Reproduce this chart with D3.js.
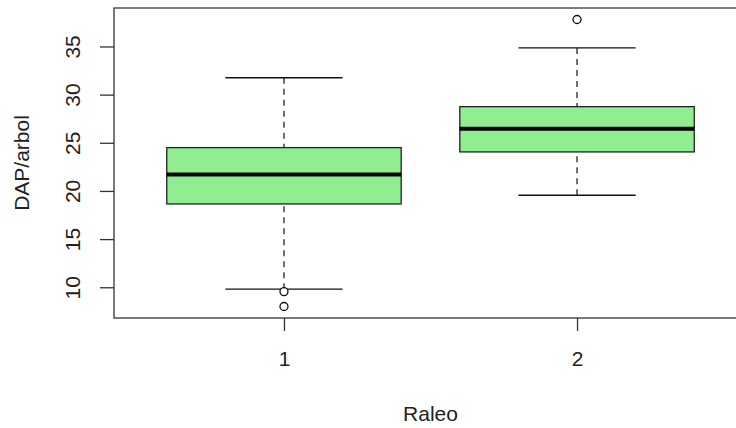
<!DOCTYPE html>
<html>
<head>
<meta charset="utf-8">
<script src="https://cdn.jsdelivr.net/npm/d3@7"></script>
<style>
  body { margin: 0; background: #fff; }
  svg { display: block; font-family: "Liberation Sans", Arial, sans-serif; }
</style>
</head>
<body>
<svg width="736" height="428"></svg>
<script>
// box statistics per Raleo group
let groups = [1, 2];
let lowWhisker = [9.8, 19.55];
let q1 = [18.65, 24.05];
let medians = [21.7, 26.45];
let q3 = [24.5, 28.75];
let highWhisker = [31.75, 34.85];
let outliers = [[9.55, 8.0], [37.8]];
let yTicks = [10, 15, 20, 25, 30, 35];

window.addEventListener('load', e => {
    drawBoxplot();
});

function drawBoxplot() {
    let left = 114, right = 747, top = 8, bottom = 318;
    let svg = d3.select("svg");

    let allVals = lowWhisker.concat(highWhisker, outliers.flat());
    let lo = d3.min(allVals), hi = d3.max(allVals);
    let pad = (hi - lo) * 0.04;

    let xScale = d3.scaleLinear()
                   .domain([0.5 - 0.08, 2.5 + 0.08])
                   .range([left, right]);
    let yScale = d3.scaleLinear()
                   .domain([lo - pad, hi + pad])
                   .range([bottom, top]);

    let boxW = xScale(0.8) - xScale(0);
    let capW = boxW / 2;

    let stats = groups.map((g, i) => ({
        g: g, lw: lowWhisker[i], q1: q1[i], med: medians[i],
        q3: q3[i], hw: highWhisker[i], out: outliers[i]
    }));

    let box = svg.selectAll(".box")
        .data(stats)
        .enter()
        .append("g")
        .attr("class", "box");

    // dashed whiskers
    box.append("line")
        .attr("x1", d => xScale(d.g)).attr("x2", d => xScale(d.g))
        .attr("y1", d => yScale(d.lw)).attr("y2", d => yScale(d.q1))
        .attr("stroke", "#222").attr("stroke-width", 1.3)
        .attr("stroke-dasharray", "6,5");
    box.append("line")
        .attr("x1", d => xScale(d.g)).attr("x2", d => xScale(d.g))
        .attr("y1", d => yScale(d.hw)).attr("y2", d => yScale(d.q3))
        .attr("stroke", "#222").attr("stroke-width", 1.3)
        .attr("stroke-dasharray", "6,5");

    // staples
    ["lw", "hw"].forEach(k => {
        box.append("line")
            .attr("x1", d => xScale(d.g) - capW / 2)
            .attr("x2", d => xScale(d.g) + capW / 2)
            .attr("y1", d => yScale(d[k])).attr("y2", d => yScale(d[k]))
            .attr("stroke", "#111").attr("stroke-width", 1.3);
    });

    box.append("rect")
        .attr("x", d => xScale(d.g) - boxW / 2)
        .attr("width", boxW)
        .attr("y", d => yScale(d.q3))
        .attr("height", d => yScale(d.q1) - yScale(d.q3))
        .attr("fill", "#90EE90")
        .attr("stroke", "#222").attr("stroke-width", 1.3);

    box.append("line")
        .attr("x1", d => xScale(d.g) - boxW / 2)
        .attr("x2", d => xScale(d.g) + boxW / 2)
        .attr("y1", d => yScale(d.med)).attr("y2", d => yScale(d.med))
        .attr("stroke", "#000").attr("stroke-width", 4);

    box.selectAll("circle")
        .data(d => d.out.map(v => ({ g: d.g, v: v })))
        .enter()
        .append("circle")
        .attr("cx", d => xScale(d.g))
        .attr("cy", d => yScale(d.v))
        .attr("r", 4)
        .attr("fill", "#fff")
        .attr("stroke", "#111").attr("stroke-width", 1.3);

    // frame
    svg.append("rect")
        .attr("x", left).attr("y", top)
        .attr("width", right - left).attr("height", bottom - top)
        .attr("fill", "none")
        .attr("stroke", "#333").attr("stroke-width", 1.3);

    // axes
    let yAxis = svg.append("g")
        .attr("transform", "translate(" + left + ",0)")
        .call(d3.axisLeft(yScale).tickValues(yTicks).tickSize(14).tickSizeOuter(0));
    yAxis.select(".domain").remove();
    yAxis.selectAll("line").attr("stroke", "#333").attr("stroke-width", 1.3);
    yAxis.selectAll("text")
        .attr("x", null).attr("dy", null)
        .attr("transform", "translate(-34,0) rotate(-90)")
        .attr("text-anchor", "middle")
        .attr("fill", "#222")
        .style("font-size", "21px");

    let xAxis = svg.append("g")
        .attr("transform", "translate(0," + bottom + ")")
        .call(d3.axisBottom(xScale).tickValues(groups).tickFormat(d3.format("d")).tickSize(13).tickSizeOuter(0));
    xAxis.select(".domain").remove();
    xAxis.selectAll("line").attr("stroke", "#333").attr("stroke-width", 1.3);
    xAxis.selectAll("text")
        .attr("y", 48).attr("dy", null)
        .attr("fill", "#222")
        .style("font-size", "21px");

    svg.append("text")
        .attr("x", xScale(1.5)).attr("y", 421)
        .attr("text-anchor", "middle")
        .attr("fill", "#222")
        .style("font-size", "21px")
        .text("Raleo");

    svg.append("text")
        .attr("transform", "translate(29," + ((top + bottom) / 2) + ") rotate(-90)")
        .attr("text-anchor", "middle")
        .attr("fill", "#222")
        .style("font-size", "21px")
        .text("DAP/arbol");
}
</script>
</body>
</html>
